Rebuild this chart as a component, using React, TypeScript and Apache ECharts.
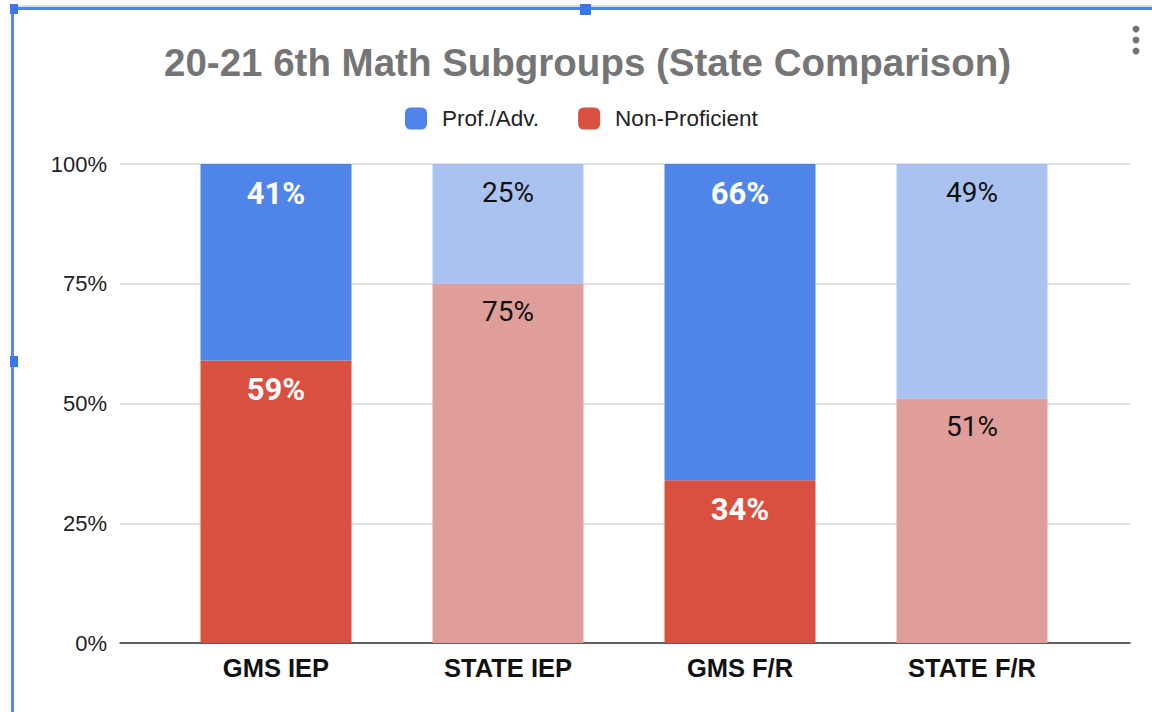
import React, { useEffect, useRef } from "react";
import * as echarts from "echarts";

const categories = ["GMS IEP", "STATE IEP", "GMS F/R", "STATE F/R"];
const profAdv = [41, 25, 66, 49];
const nonProf = [59, 75, 34, 51];
const isSchool = [true, false, true, false];
const yTicks = [0, 25, 50, 75, 100];

const BLUE = "#4f85e8";
const RED = "#d95040";
const LIGHT_BLUE = "#a9c2ef";
const LIGHT_RED = "#e09e9b";

export default function App() {
  const ref = useRef<HTMLDivElement>(null);
  useEffect(() => {
    if (!ref.current) return;
    const chart = echarts.init(ref.current, undefined, { renderer: "svg" });
    const mkData = (vals: number[], strong: string, light: string) =>
      vals.map((v, i) => ({
        value: v,
        itemStyle: { color: isSchool[i] ? strong : light },
        label: isSchool[i]
          ? { color: "#ffffff", fontWeight: "bold", fontSize: 31, distance: 14 }
          : { color: "#111111", fontWeight: "normal", fontSize: 28, distance: 14 },
      }));
    const labelBase = {
      show: true,
      position: "insideTop",
      distance: 14,
      fontFamily: "Roboto",
      formatter: (p: any) => p.value + "%",
    };
    chart.setOption({
      animation: false,
      backgroundColor: "#ffffff",
      title: {
        text: "20-21 6th Math Subgroups (State Comparison)",
        left: 159,
        top: 38,
        textStyle: {
          fontFamily: "Liberation Sans",
          fontWeight: "bold",
          fontSize: 38.5,
          color: "#757575",
        },
      },
      legend: {
        data: ["Prof./Adv.", "Non-Proficient"],
        left: 400,
        top: 102,
        icon: "roundRect",
        itemWidth: 22,
        itemHeight: 22,
        itemGap: 39,
        textStyle: {
          fontFamily: "Liberation Sans",
          fontSize: 22.5,
          color: "#222222",
          padding: [0, 0, 0, 10],
        },
      },
      grid: [
        { left: 120, right: 22, top: 164, bottom: 69 },
        { left: 160, right: 64, top: 164, bottom: 69 },
      ],
      xAxis: [
        {
          type: "category",
          gridIndex: 0,
          data: categories,
          axisLine: { show: true, lineStyle: { color: "#333333", width: 1.5 } },
          axisTick: { show: false },
          axisLabel: { show: false },
        },
        {
          type: "category",
          gridIndex: 1,
          data: categories,
          axisLine: { show: false },
          axisTick: { show: false },
          axisLabel: {
            margin: 12,
            fontFamily: "Liberation Sans",
            fontWeight: "bold",
            fontSize: 25.5,
            color: "#111111",
          },
        },
      ],
      yAxis: [
        {
          type: "value",
          gridIndex: 0,
          min: yTicks[0],
          max: yTicks[yTicks.length - 1],
          interval: 25,
          axisLine: { show: false },
          axisTick: { show: false },
          splitLine: { lineStyle: { color: "#d9d9d9", width: 1.5 } },
          axisLabel: {
            margin: 13,
            formatter: "{value}%",
            fontFamily: "Liberation Sans",
            fontSize: 22,
            color: "#222222",
          },
        },
        {
          type: "value",
          gridIndex: 1,
          min: 0,
          max: 100,
          show: false,
        },
      ],
      series: [
        {
          name: "Non-Proficient",
          type: "bar",
          stack: "total",
          xAxisIndex: 1,
          yAxisIndex: 1,
          barWidth: 151,
          itemStyle: { color: RED },
          label: labelBase,
          data: mkData(nonProf, RED, LIGHT_RED),
        },
        {
          name: "Prof./Adv.",
          type: "bar",
          stack: "total",
          xAxisIndex: 1,
          yAxisIndex: 1,
          barWidth: 151,
          itemStyle: { color: BLUE },
          label: labelBase,
          data: mkData(profAdv, BLUE, LIGHT_BLUE),
        },
      ],
      graphic: [
        { type: "rect", shape: { x: 13, y: 5, width: 1139, height: 2 }, style: { fill: "#dcdcdc" } },
        { type: "rect", shape: { x: 13, y: 7, width: 1139, height: 3 }, style: { fill: "#4a86e8" } },
        { type: "rect", shape: { x: 11, y: 8, width: 3, height: 704 }, style: { fill: "#5a8be0" } },
        { type: "rect", shape: { x: 10, y: 4, width: 8, height: 10 }, style: { fill: "#3b78e7" } },
        { type: "rect", shape: { x: 580, y: 4, width: 11, height: 11 }, style: { fill: "#3b78e7" } },
        { type: "rect", shape: { x: 10, y: 356, width: 8, height: 11 }, style: { fill: "#3b78e7" } },
        { type: "circle", shape: { cx: 1136, cy: 29, r: 3.5 }, style: { fill: "#757575" } },
        { type: "circle", shape: { cx: 1136, cy: 40, r: 3.5 }, style: { fill: "#757575" } },
        { type: "circle", shape: { cx: 1136, cy: 51, r: 3.5 }, style: { fill: "#757575" } },
      ],
    });
    return () => chart.dispose();
  }, []);
  return (
    <div
      ref={ref}
      style={{ position: "fixed", left: 0, top: 0, width: 1152, height: 712, background: "#fff" }}
    />
  );
}
